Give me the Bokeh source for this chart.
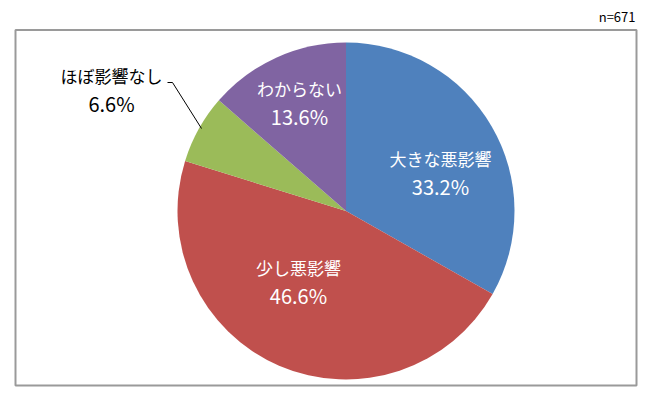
import math
from bokeh.plotting import figure
from bokeh.models import Range1d, ColumnDataSource
from bokeh.core.properties import value
from bokeh.embed import file_html
from bokeh.resources import INLINE

# ---- data ----
categories = ["大きな悪影響", "少し悪影響", "ほぼ影響なし", "わからない"]
shares = [33.2, 46.6, 6.6, 13.6]
colors = ["#4F81BD", "#C0504D", "#9BBB59", "#8064A2"]
sample_note = "n=671"

# ---- layout (pixel space, y up) ----
W, H = 650, 396
cx, cy, r = 345.5, H - 210.5, 168.5
label_pos = [(440, H - 158), (298, H - 267), (111, H - 75), (299, H - 88)]
label_color = ["white", "white", "black", "white"]
line_gap = 28
FONT = "Noto Sans CJK JP"

p = figure(width=W, height=H, output_backend="svg", toolbar_location=None,
           x_range=Range1d(0, W), y_range=Range1d(0, H), min_border=0)
p.axis.visible = False
p.xgrid.visible = False
p.ygrid.visible = False
p.outline_line_color = None
p.background_fill_color = "white"

# outer box
p.quad(left=[15], right=[636], bottom=[H - 385], top=[H - 29.5],
       fill_color=None, line_color="#9a9a9a", line_width=2)

total = sum(shares)
starts, ends = [], []
acc = 0.0
for s in shares:
    starts.append(math.pi / 2 - acc / total * 2 * math.pi)
    acc += s
    ends.append(math.pi / 2 - acc / total * 2 * math.pi)

src = ColumnDataSource(dict(start=starts, end=ends, color=colors))
p.wedge(x=cx, y=cy, radius=r, start_angle="start", end_angle="end",
        direction="clock", fill_color="color", line_color=None, source=src)

# leader line for small slice
p.line(x=[167, 172, 201], y=[H - 82, H - 82, H - 128], line_color="black", line_width=1)

names_src = ColumnDataSource(dict(
    x=[pt[0] for pt in label_pos],
    y=[pt[1] for pt in label_pos],
    y2=[pt[1] - line_gap for pt in label_pos],
    name=categories,
    pct=[f"{v:.1f}%" for v in shares],
    color=label_color,
))
p.text(x="x", y="y", text="name", source=names_src, text_color="color",
       text_align="center", text_baseline="middle",
       text_font=value(FONT), text_font_size="17px")
p.text(x="x", y="y2", text="pct", source=names_src, text_color="color",
       text_align="center", text_baseline="middle",
       text_font=value(FONT), text_font_size="20px")

p.text(x=[635], y=[H - 16], text=[sample_note], text_align="right",
       text_baseline="middle", text_font=value(FONT), text_font_size="13px",
       text_color="black")

open("out.html", "w").write(file_html(p, INLINE))
